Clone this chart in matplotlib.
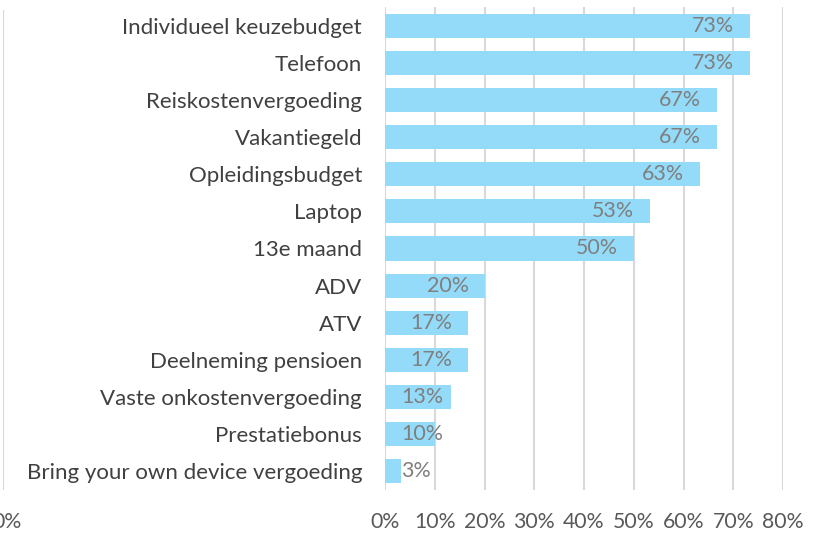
import matplotlib
matplotlib.use("Agg")
import matplotlib.pyplot as plt
from matplotlib.ticker import FuncFormatter

categories = ["Individueel keuzebudget", "Telefoon", "Reiskostenvergoeding", "Vakantiegeld",
              "Opleidingsbudget", "Laptop", "13e maand", "ADV", "ATV", "Deelneming pensioen",
              "Vaste onkostenvergoeding", "Prestatiebonus", "Bring your own device vergoeding"]
values = [73.3, 73.3, 66.7, 66.7, 63.3, 53.3, 50.0, 20.0, 16.7, 16.7, 13.3, 10.0, 3.3]
labels = ["73%", "73%", "67%", "67%", "63%", "53%", "50%", "20%", "17%", "17%", "13%", "10%", "3%"]
xticks = [0, 10, 20, 30, 40, 50, 60, 70, 80]

FONT = "Lato"
BAR = "#93dbf9"
GRID = "#d9d9d9"

W, H = 832, 538
fig = plt.figure(figsize=(W / 100, H / 100), dpi=100)

x0, x80 = 385, 783
top, bottom = 7, 490
ax = fig.add_axes([x0 / W, 1 - bottom / H, (x80 - x0) / W, (bottom - top) / H])
n = len(categories)
ypos = list(range(n))
ax.barh(ypos, values, height=0.65, color=BAR, zorder=2)
ax.set_ylim(n - 0.5, -0.5)
ax.set_xlim(0, 80)
ax.set_xticks(xticks)
ax.xaxis.set_major_formatter(FuncFormatter(lambda v, p: f"{int(v)}%"))
ax.grid(axis="x", color=GRID, linewidth=1.5, zorder=0)
ax.set_axisbelow(True)
for s in ax.spines.values():
    s.set_visible(False)
ax.tick_params(axis="both", length=0)
ax.tick_params(axis="x", pad=16, labelsize=15.3, labelcolor="#595959")
ax.set_yticks(ypos)
ax.set_yticklabels(categories, fontsize=16, color="#404040", fontfamily=FONT)
ax.tick_params(axis="y", pad=16.5)
for t in ax.get_xticklabels():
    t.set_fontfamily(FONT)

fig.canvas.draw()
r = fig.canvas.get_renderer()
pad = 3.2
for y, v, lab in zip(ypos, values, labels):
    t = ax.text(v - pad, y, lab, ha="right", va="center", fontsize=15.4, color="#7f7f7f",
                fontfamily=FONT, zorder=3)
    bb = t.get_window_extent(r).transformed(ax.transData.inverted())
    if bb.x0 < pad:
        t.set_ha("left")
        t.set_x(pad)

# partial neighbouring chart at the left edge
ax2 = fig.add_axes([3 / W, 1 - bottom / H, 40 / W, (bottom - 10) / H])
ax2.set_xlim(0, 10)
ax2.set_ylim(0, 1)
ax2.set_xticks([0])
ax2.xaxis.set_major_formatter(FuncFormatter(lambda v, p: f"{int(v)}%"))
ax2.set_yticks([])
ax2.grid(axis="x", color=GRID, linewidth=1.5)
for s in ax2.spines.values():
    s.set_visible(False)
ax2.tick_params(axis="x", length=0, pad=16, labelsize=15.3, labelcolor="#595959")
for t in ax2.get_xticklabels():
    t.set_fontfamily(FONT)
    t.set_ha("left")
    t.set_x(0)
ax2.patch.set_alpha(0)

fig.canvas.draw()
# shift the clipped label so that only the right part shows, as in the reference
from matplotlib.transforms import offset_copy
for t in ax2.get_xticklabels():
    t.set_ha("center")
    t.set_transform(offset_copy(t.get_transform(), fig=fig, x=4, units="dots"))

fig.savefig("out.png", dpi=100)
